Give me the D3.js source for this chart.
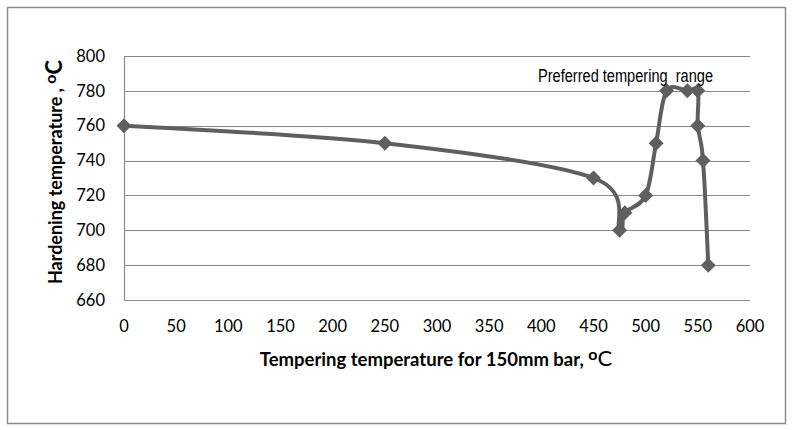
<!DOCTYPE html>
<html>
<head>
<meta charset="utf-8">
<script src="https://cdn.jsdelivr.net/npm/d3@7"></script>
<style>
  body { margin: 0; background: #fff; }
  svg { display: block; }
</style>
</head>
<body>
<div id="chart"></div>
<script>
// tempering temperature (x) vs hardening temperature (y)
const temperingTemps = [0, 250, 450, 475, 480, 500, 510, 520, 540, 550, 550, 555, 560];
const hardeningTemps = [760, 750, 730, 700, 710, 720, 750, 780, 780, 780, 760, 740, 680];
const xTicks = [0, 50, 100, 150, 200, 250, 300, 350, 400, 450, 500, 550, 600];
const yTicks = [660, 680, 700, 720, 740, 760, 780, 800];
const annotation = 'Preferred tempering\u00a0\u00a0range';

const width = 792, height = 430;
const margin = {top: 56, right: 42, bottom: 130, left: 124};

const svg = d3.select('#chart')
  .append('svg')
  .attr('width', width)
  .attr('height', height);

// outer frame
svg.append('rect')
  .attr('x', 7.5).attr('y', 7.5)
  .attr('width', 778).attr('height', 416)
  .attr('fill', '#fff')
  .attr('stroke', '#8c8c8c')
  .attr('stroke-width', 1.5);

const x = d3.scaleLinear().domain([0, 600]).range([margin.left, width - margin.right]);
const y = d3.scaleLinear().domain([660, 800]).range([height - margin.bottom, margin.top]);

// gridlines
svg.append('g')
  .selectAll('line')
  .data(yTicks)
  .enter()
  .append('line')
  .attr('x1', x(0)).attr('x2', x(600))
  .attr('y1', d => Math.round(y(d)) + 0.5)
  .attr('y2', d => Math.round(y(d)) + 0.5)
  .style('stroke', '#8a8a8a')
  .style('stroke-width', 1.2);

// y axis line
svg.append('line')
  .attr('x1', x(0) + 0.5).attr('x2', x(0) + 0.5)
  .attr('y1', y(800)).attr('y2', y(660))
  .style('stroke', '#8a8a8a')
  .style('stroke-width', 1.2);

const tickFont = 'Lato, "Open Sans", sans-serif';

// y tick labels
svg.append('g')
  .selectAll('text')
  .data(yTicks)
  .enter()
  .append('text')
  .attr('x', 105)
  .attr('y', d => y(d))
  .attr('dy', '0.35em')
  .attr('text-anchor', 'end')
  .style('font-family', tickFont)
  .style('font-size', '16.5px')
  .style('fill', '#000')
  .text(d => d);

// x tick labels
svg.append('g')
  .selectAll('text')
  .data(xTicks)
  .enter()
  .append('text')
  .attr('x', d => x(d))
  .attr('y', 332)
  .attr('text-anchor', 'middle')
  .style('font-family', tickFont)
  .style('font-size', '16.5px')
  .style('fill', '#000')
  .text(d => d);

// axis titles
const xTitle = svg.append('text')
  .attr('x', 436)
  .attr('y', 366)
  .attr('text-anchor', 'middle')
  .style('font-family', tickFont)
  .style('font-weight', 'bold')
  .style('font-size', '18.5px')
  .text('Tempering temperature for 150mm bar, ');
xTitle.append('tspan').attr('dy', -6).style('font-size', '16px').text('o');
xTitle.append('tspan').attr('dy', 6).style('font-size', '22px').style('font-weight', 'normal').text('C');

const yTitle = svg.append('text')
  .attr('transform', 'translate(62,' + 172 + ') rotate(-90)')
  .attr('text-anchor', 'middle')
  .style('font-family', tickFont)
  .style('font-weight', 'bold')
  .style('font-size', '18px')
  .text('Hardening temperature , ');
yTitle.append('tspan').attr('dy', -6).style('font-size', '16px').text('o');
yTitle.append('tspan').attr('dy', 6).style('font-size', '22px').text('C');

// series
const points = temperingTemps.map((t, i) => ({t: t, h: hardeningTemps[i]}));

const line = d3.line()
  .x(d => x(d.t))
  .y(d => y(d.h))
  .curve(d3.curveCardinal.tension(0));

svg.append('path')
  .datum(points)
  .attr('d', line)
  .attr('fill', 'none')
  .style('stroke', '#5f5f5f')
  .style('stroke-width', 4)
  .style('stroke-linejoin', 'round');

svg.append('g')
  .selectAll('path')
  .data(points)
  .enter()
  .append('path')
  .attr('transform', d => 'translate(' + x(d.t) + ',' + y(d.h) + ')')
  .attr('d', 'M0,-7.5L7.5,0L0,7.5L-7.5,0Z')
  .style('fill', '#5f5f5f');

// annotation
svg.append('text')
  .attr('x', 538)
  .attr('y', 82)
  .attr('textLength', 175)
  .attr('lengthAdjust', 'spacingAndGlyphs')
  .style('font-family', '"Liberation Sans Narrow", "Liberation Sans", Arial, sans-serif')
  .style('font-size', '18px')
  .style('fill', '#000')
  .text(annotation);
</script>
</body>
</html>
